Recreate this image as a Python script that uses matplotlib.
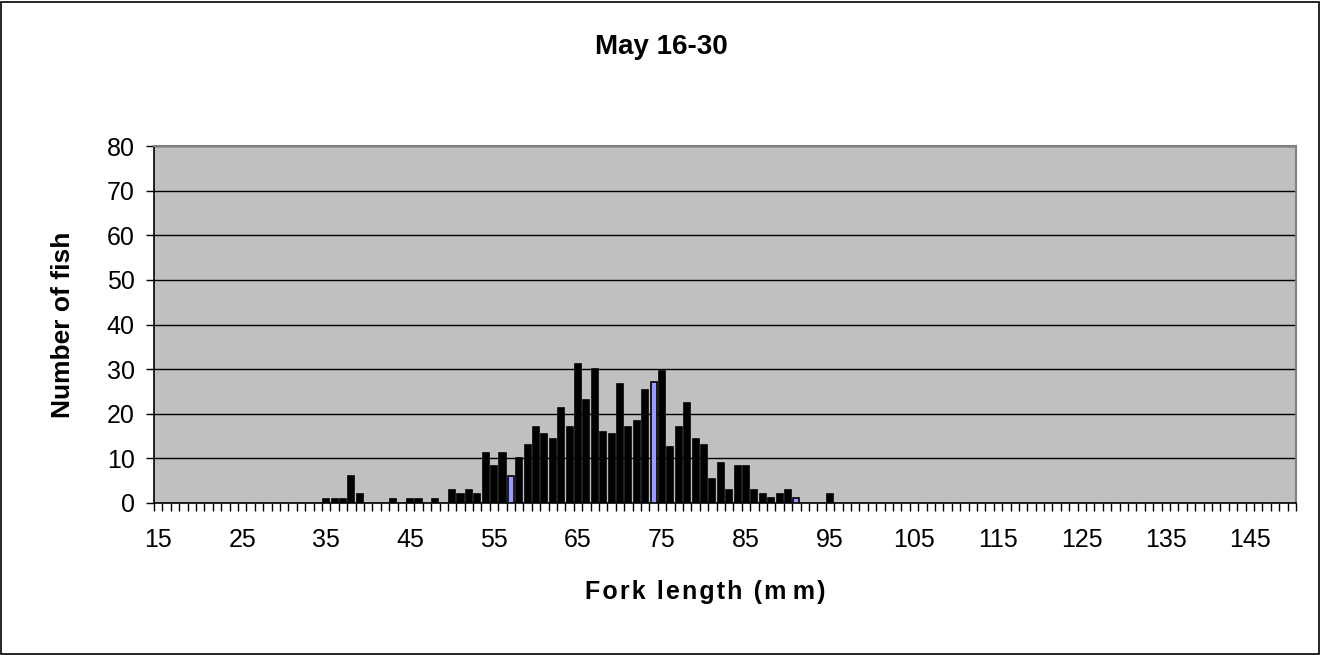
import matplotlib.pyplot as plt
from matplotlib.patches import Rectangle

# fork length classes (mm) shown on the category axis
categories = list(range(15, 151))
tick_labels = [str(v) for v in range(15, 146, 10)]

# classes that have fish, and the number of fish in each
fork_length = [35, 36, 37, 38, 39, 43, 45, 46, 48, 50, 51, 52, 53, 54, 55, 56, 57, 58,
               59, 60, 61, 62, 63, 64, 65, 66, 67, 68, 69, 70, 71, 72, 73, 74, 75, 76,
               77, 78, 79, 80, 81, 82, 83, 84, 85, 86, 87, 88, 89, 90, 91, 95]
n_fish = [1, 1, 1, 6, 2, 1, 1, 1, 1, 3, 2, 3, 2, 11.2, 8.3, 11.2, 6, 10.1,
          13, 17.1, 15.4, 14.3, 21.3, 17.1, 31.2, 23.1, 30.1, 16, 15.4, 26.6, 17.1, 18.4, 25.4, 27.1, 29.5, 12.5,
          17.1, 22.4, 14.3, 13, 5.4, 8.9, 3, 8.3, 8.3, 3, 2, 1.2, 2, 3, 1.2, 2]
blue_bars = [57, 74, 91]

plt.rcParams['font.family'] = ['Liberation Sans', 'DejaVu Sans']

fig = plt.figure(figsize=(13.22, 6.55), dpi=100)
ax = fig.add_axes([154 / 1322, 1 - 503 / 655, (1296 - 154) / 1322, (503 - 146) / 655])
ax.set_facecolor('#C0C0C0')

colors = ['#9999FF' if x in blue_bars else 'black' for x in fork_length]
ax.bar(fork_length, n_fish, width=0.72, color=colors, edgecolor='black', linewidth=1.2, zorder=3)

ax.set_xlim(categories[0] - 0.5, categories[-1] + 0.5)
ax.set_ylim(0, 80)

# y axis
ax.set_yticks(range(0, 81, 10))
ax.yaxis.grid(True, color='black', linewidth=1.0, zorder=1)
ax.tick_params(axis='y', direction='out', length=6, width=1, labelsize=18, pad=8)

# x axis: ticks between categories, labels every 10 classes
ax.set_xticks([c - 0.5 for c in categories] + [categories[-1] + 0.5])
ax.set_xticklabels([])
ax.set_xticks(range(15, 146, 10), minor=True)
ax.set_xticklabels(tick_labels, minor=True)
ax.tick_params(axis='x', which='major', direction='out', length=6, width=1)
ax.tick_params(axis='x', which='minor', length=0, labelsize=18, pad=18)

for s in ['left', 'bottom']:
    ax.spines[s].set_color('black')
    ax.spines[s].set_linewidth(1.2)
for s in ['top', 'right']:
    ax.spines[s].set_color('#808080')
    ax.spines[s].set_linewidth(1.5)

# excel-style spaced axis title
xlabel = '\u200a'.join('Fork length (mm)').replace('m\u200am', 'm\u200a\u200a\u200am')

fig.text(0.5, 1 - 47 / 655, 'May 16-30', ha='center', va='center', fontsize=20, fontweight='bold')
fig.text(705 / 1322, 1 - 592 / 655, xlabel, ha='center', va='center',
         fontsize=18, fontweight='bold')
fig.text(63 / 1322, 1 - 325 / 655, 'Number of fish', ha='center', va='center', rotation=90,
         fontsize=19, fontweight='bold')

# chart border
fig.patches.append(Rectangle((0.001, 0.002), 0.997, 0.995, transform=fig.transFigure,
                             fill=False, edgecolor='black', linewidth=1.2))

plt.savefig('out.png', dpi=100)
